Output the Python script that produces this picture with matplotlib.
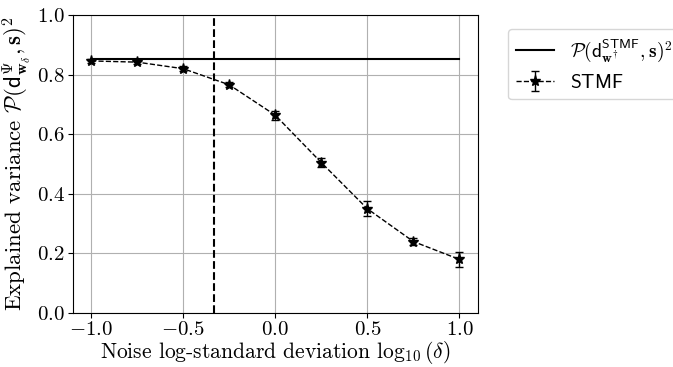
import matplotlib
matplotlib.use("Agg")
import matplotlib.pyplot as plt
import numpy as np

# data
log_delta = [-1.0, -0.75, -0.5, -0.25, 0.0, 0.25, 0.5, 0.75, 1.0]
stmf_mean = [0.846, 0.842, 0.820, 0.766, 0.664, 0.505, 0.350, 0.240, 0.180]
stmf_err = [0.006, 0.006, 0.008, 0.008, 0.015, 0.015, 0.026, 0.012, 0.025]
reference_value = 0.853
threshold = -0.33

plt.rcParams['mathtext.fontset'] = 'cm'
plt.rcParams['font.family'] = 'cmr10'
plt.rcParams['axes.formatter.use_mathtext'] = True
plt.rcParams['axes.unicode_minus'] = False

fig = plt.figure(figsize=(6.73, 3.67), dpi=100)
ax = fig.add_axes([0.108, 0.147, 0.602, 0.812])

ax.plot([log_delta[0], log_delta[-1]], [reference_value, reference_value],
        color='black', lw=1.5,
        label=r'$\mathcal{P}(\mathsf{d}^{\mathsf{STMF}}_{\mathbf{w}^{\dagger}}, \mathbf{s})^2$')
ax.errorbar(log_delta, stmf_mean, yerr=stmf_err, color='black', ls='--', lw=1,
            marker='*', markersize=8, capsize=3, elinewidth=1,
            label=r'$\mathsf{STMF}$')
ax.axvline(threshold, color='black', ls='--', lw=1.5)

ax.set_ylim(0, 1)
ax.set_xlim(-1.1, 1.1)
ax.set_xticks([-1.0, -0.5, 0.0, 0.5, 1.0])
ax.grid(True, color='#b0b0b0', lw=0.8)
ax.tick_params(labelsize=15, pad=2)
ax.set_xlabel(r'Noise log-standard deviation $\log_{10}(\delta)$', fontsize=15.5, labelpad=0.5)
ax.set_ylabel(r'Explained variance $\mathcal{P}(\mathsf{d}^{\Psi}_{\mathbf{w}_{\delta}}, \mathbf{s})^2$',
              fontsize=16.5, labelpad=3)
ax.legend(loc='upper left', bbox_to_anchor=(1.05, 0.985), fontsize=14)

fig.savefig('out.png', dpi=100)
